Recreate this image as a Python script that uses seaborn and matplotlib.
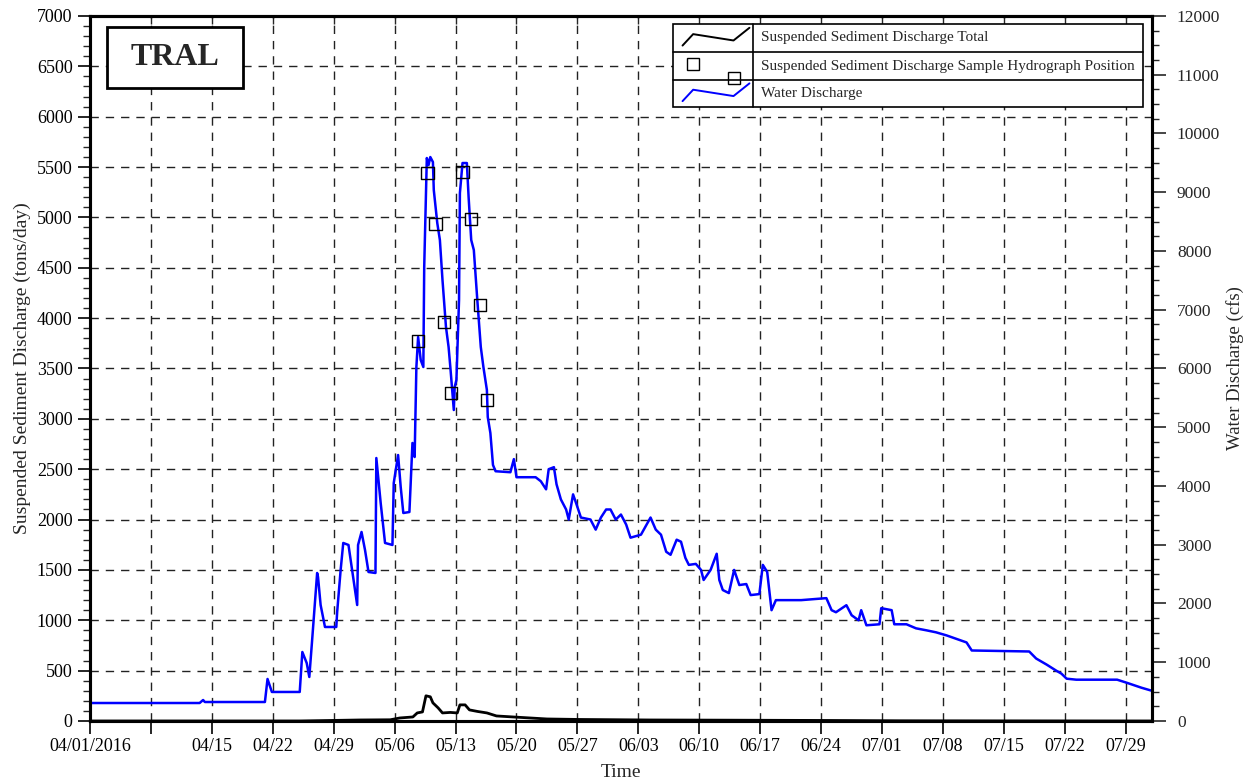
import numpy as np
import pandas as pd
import seaborn as sns
import matplotlib.pyplot as plt
import matplotlib.dates as mdates
from matplotlib.ticker import MultipleLocator, FixedLocator
from matplotlib.patches import Rectangle

start = pd.Timestamp('2016-04-01')

# water discharge (cfs), days after 04/01/2016
water_days = [0, 12.6, 13.0, 13.2, 20.1, 20.4, 20.9, 24.1, 24.4, 24.9, 25.2, 25.5, 26.1, 26.2,
              26.5, 27.0, 28.3, 28.4, 28.8, 29.1, 29.7, 30.7, 30.8, 31.2, 31.6, 32.0, 32.8, 32.9,
              33.4, 33.7, 33.9, 34.75, 34.9, 35.4, 35.7, 36.0, 36.7, 37.05, 37.3, 37.5, 37.7, 38.0,
              38.3, 38.4, 38.7, 38.9, 39.1, 39.4, 39.5, 39.9, 40.2, 40.5, 40.9, 41.2, 41.4, 41.8,
              41.9, 42.1, 42.4, 42.5, 42.8, 43.3, 43.5, 43.8, 44.1, 44.5, 44.9, 45.2, 45.6, 45.7,
              46.0, 46.3, 46.6, 48.3, 48.7, 49.0, 51.2, 51.8, 52.4, 52.7, 53.3, 53.6, 54.1, 54.7,
              55.0, 55.5, 55.9, 56.4, 57.5, 58.1, 58.7, 59.3, 59.8, 60.4, 61.0, 61.6, 62.1, 63.3,
              64.4, 65.0, 65.6, 66.2, 66.7, 67.4, 67.9, 68.4, 68.8, 69.6, 70.2, 70.5, 71.3, 72.0,
              72.3, 72.7, 73.4, 74.0, 74.6, 75.4, 75.9, 76.9, 77.3, 77.8, 78.3, 78.8, 81.7, 84.6,
              85.2, 85.7, 86.9, 87.5, 88.3, 88.6, 89.2, 90.7, 90.9, 92.1, 92.4, 93.8, 94.9, 96.1,
              97.2, 98.4, 100.7, 101.3, 107.9, 108.7, 109.9, 111.0, 111.6, 112.2, 113.3, 118.0,
              119.1, 120.8, 122.0]
water_cfs = [306, 306, 357, 323, 323, 715, 494, 494, 1174, 987, 749, 1328, 2519, 2451,
             1974, 1600, 1600, 1855, 2570, 3030, 2996, 1974, 2996, 3217, 2910, 2536, 2519, 4476,
             3710, 3302, 3030, 2996, 4051, 4527, 3983, 3540, 3557, 4732, 4493, 6025, 6536, 6144,
             6025, 7727, 9582, 9463, 9599, 9514, 9038, 8476, 8187, 7506, 6706, 6365, 6025, 5293,
             5685, 5804, 7165, 8987, 9497, 9497, 8918, 8187, 8016, 7165, 6365, 6025, 5634, 5174,
             4902, 4357, 4251, 4234, 4457, 4149, 4149, 4080, 3943, 4286, 4320, 4029, 3771, 3600,
             3429, 3857, 3686, 3463, 3429, 3257, 3463, 3600, 3600, 3429, 3514, 3343, 3120, 3171,
             3463, 3257, 3171, 2880, 2829, 3086, 3051, 2777, 2657, 2674, 2571, 2400, 2571, 2846,
             2400, 2229, 2177, 2571, 2314, 2331, 2143, 2160, 2657, 2537, 1886, 2057, 2057, 2091,
             1886, 1851, 1971, 1800, 1714, 1886, 1629, 1646, 1920, 1886, 1646, 1646, 1577, 1543,
             1509, 1457, 1337, 1200, 1183, 1063, 960, 857, 806, 720, 703, 703,
             651, 566, 514]

# suspended sediment discharge total (tons/day)
sed_days = [0, 24.1, 27.6, 31.0, 34.5, 35.6, 37.1, 37.6, 38.2, 38.6, 39.1, 39.4, 40.0, 40.5,
            41.4, 42.2, 42.5, 43.1, 43.6, 44.5, 45.6, 46.7, 48.6, 52.5, 56.3, 64.3, 73.5, 85.0,
            93.0, 104.5, 122.0]
sed_tons = [0, 0, 5, 10, 12, 30, 40, 80, 90, 250, 240, 180, 130, 80,
            85, 80, 160, 160, 110, 95, 80, 50, 40, 20, 15, 10, 8, 5,
            2, 1, 0]

# sample hydrograph positions (cfs)
sample_days = [37.7, 38.8, 39.7, 40.7, 41.5, 42.8, 43.8, 44.8, 45.6]
sample_cfs = [6468, 9327, 8459, 6791, 5583, 9344, 8544, 7080, 5463]

water = pd.DataFrame({'time': start + pd.to_timedelta(water_days, unit='D'), 'cfs': water_cfs})
sed = pd.DataFrame({'time': start + pd.to_timedelta(sed_days, unit='D'), 'tons': sed_tons})
samples = pd.DataFrame({'time': start + pd.to_timedelta(sample_days, unit='D'), 'cfs': sample_cfs})

sns.set_theme(style="ticks")
plt.rcParams['font.family'] = ['Liberation Serif', 'DejaVu Serif']

fig = plt.figure(figsize=(12.44, 7.83), dpi=100)
ax = fig.add_axes([0.0723, 0.0792, 0.8537, 0.9004])
ax2 = ax.twinx()

sns.lineplot(data=sed, x='time', y='tons', ax=ax, color='black', linewidth=2.0, sort=False)
sns.lineplot(data=water, x='time', y='cfs', ax=ax2, color='#0000ff', linewidth=1.8, sort=False)
sns.scatterplot(data=samples, x='time', y='cfs', ax=ax2, marker='s', s=80,
                facecolor='none', edgecolor='black', linewidth=1.0, zorder=5)

ax.set_xlim(start, pd.Timestamp('2016-08-01'))
ax.set_ylim(0, 7000)
ax2.set_ylim(0, 12000)

ticks = pd.date_range('2016-04-01', '2016-07-29', freq='7D')
ax.xaxis.set_major_locator(FixedLocator(mdates.date2num(ticks)))
labels = [t.strftime('%m/%d') for t in ticks]
labels[0] = '04/01/2016'
labels[1] = ''
ax.set_xticklabels(labels)

ax.yaxis.set_major_locator(MultipleLocator(500))
ax.yaxis.set_minor_locator(MultipleLocator(100))
ax2.yaxis.set_major_locator(MultipleLocator(1000))
ax2.yaxis.set_minor_locator(MultipleLocator(250))

ax.grid(True, which='major', linestyle=(0, (6, 5)), color='#222222', linewidth=1.0)

for a in (ax, ax2):
    for s in a.spines.values():
        s.set_linewidth(2.2)
        s.set_color('black')
ax.tick_params(axis='both', which='major', labelsize=13, length=9, width=1.2, colors='black')
ax.tick_params(axis='y', which='minor', length=5, width=1.0)
ax2.tick_params(axis='y', which='major', labelsize=12.5, length=10, width=1.2, pad=8)
ax2.tick_params(axis='y', which='minor', length=5, width=1.0)

top = ax.secondary_xaxis('top')
top.xaxis.set_major_locator(FixedLocator(mdates.date2num(ticks)))
top.tick_params(direction='in', length=6, width=1.0, labeltop=False)
top.spines['top'].set_linewidth(2.2)

ax.set_xlabel('Time', fontsize=14, labelpad=6)
ax.set_ylabel('Suspended Sediment Discharge (tons/day)', fontsize=14, labelpad=4)
ax2.set_ylabel('Water Discharge (cfs)', fontsize=13.5, labelpad=4)

# station box
ax2.add_patch(Rectangle((0.016, 0.898), 0.128, 0.086, transform=ax2.transAxes,
                        facecolor='white', edgecolor='black', linewidth=2.0, zorder=20))
ax2.text(0.080, 0.941, 'TRAL', transform=ax2.transAxes, ha='center', va='center',
         fontsize=23, fontweight='bold', zorder=21)

# table-like legend
lx0, lx1, ldiv = 0.549, 0.9915, 0.624
ly = [0.9887, 0.949, 0.909, 0.871]
ax2.add_patch(Rectangle((lx0, ly[3]), lx1 - lx0, ly[0] - ly[3], transform=ax2.transAxes,
                        facecolor='white', edgecolor='black', linewidth=1.2, zorder=20))
for yy in ly[1:3]:
    ax2.plot([lx0, lx1], [yy, yy], transform=ax2.transAxes, color='black', lw=1.2, zorder=21)
ax2.plot([ldiv, ldiv], [ly[3], ly[0]], transform=ax2.transAxes, color='black', lw=1.2, zorder=21)

sx = np.array([0.558, 0.568, 0.606, 0.621])
sy = np.array([-0.6, 0.3, -0.2, 0.8])
ax2.plot(sx, (ly[0] + ly[1]) / 2 + sy * 0.018, transform=ax2.transAxes, color='black', lw=1.4, zorder=22)
ax2.plot(sx, (ly[2] + ly[3]) / 2 + sy * 0.018, transform=ax2.transAxes, color='#0000ff', lw=1.4, zorder=22)
ax2.plot([0.568, 0.606], [0.932, 0.912], transform=ax2.transAxes, linestyle='none', marker='s',
         markersize=8.5, markerfacecolor='none', markeredgecolor='black', markeredgewidth=1.0, zorder=22)

names = ['Suspended Sediment Discharge Total',
         'Suspended Sediment Discharge Sample Hydrograph Position',
         'Water Discharge']
for i, name in enumerate(names):
    ax2.text(ldiv + 0.008, (ly[i] + ly[i + 1]) / 2, name, transform=ax2.transAxes,
             ha='left', va='center', fontsize=11, zorder=22)

ax.set_zorder(0)
fig.savefig('out.png', dpi=100)
